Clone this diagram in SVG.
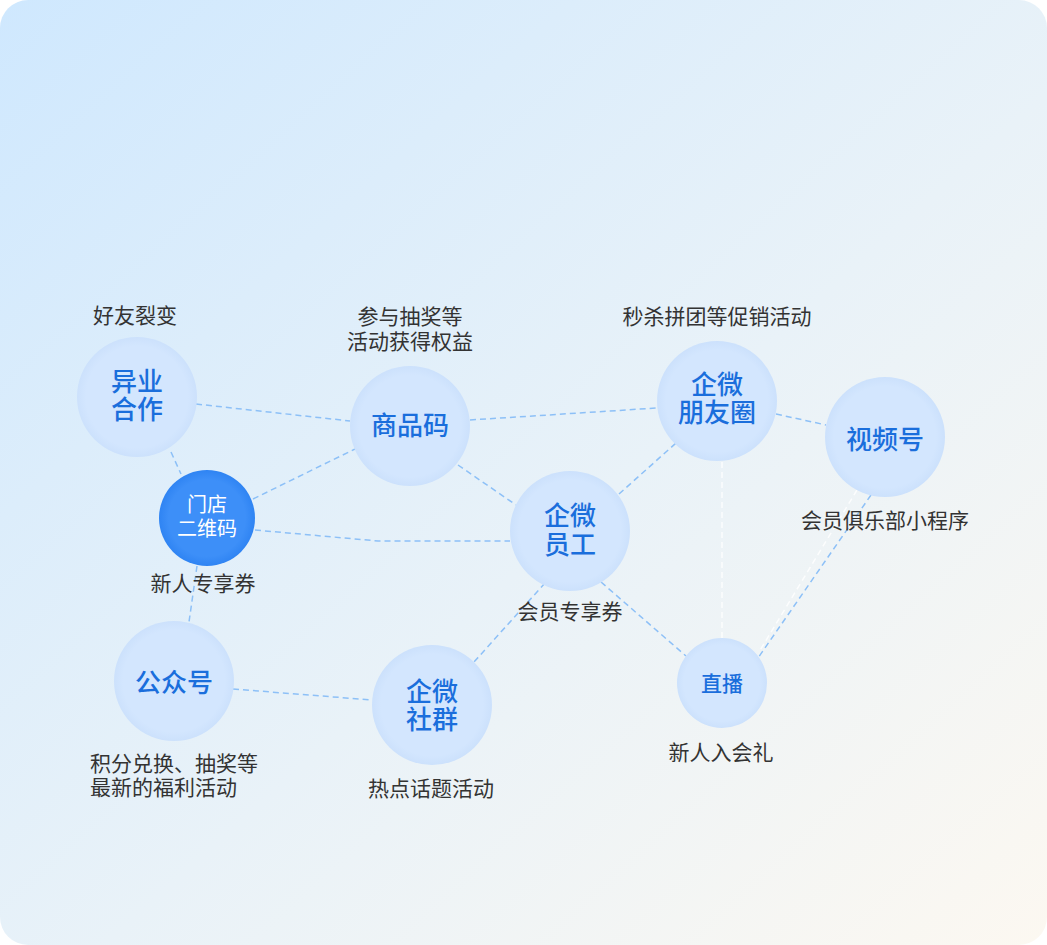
<svg xmlns="http://www.w3.org/2000/svg" width="1047" height="945" viewBox="0 0 1047 945">
<defs>
<linearGradient id="bg" x1="0" y1="0" x2="1" y2="1">
<stop offset="0" stop-color="#CFE8FE"/>
<stop offset="0.55" stop-color="#E9F2F8"/>
<stop offset="1" stop-color="#FCF8F1"/>
</linearGradient>
<radialGradient id="nodeFill" cx="0.5" cy="0.5" r="0.5">
<stop offset="0.85" stop-color="#D3E6FE"/>
<stop offset="1" stop-color="#CCE1FC"/>
</radialGradient>
<radialGradient id="mainFill" cx="0.5" cy="0.5" r="0.5">
<stop offset="0.8" stop-color="#3D8FF8"/>
<stop offset="1" stop-color="#2F84F3"/>
</radialGradient>
<style>
.node{fill:url(#nodeFill);}
.nt{font-family:"Noto Sans CJK SC","Noto Sans",sans-serif;font-size:26px;font-weight:500;fill:#1A6EDC;text-anchor:middle;}
.nts{font-family:"Noto Sans CJK SC","Noto Sans",sans-serif;font-size:21px;font-weight:500;fill:#1A6EDC;text-anchor:middle;}
.wt{font-family:"Noto Sans CJK SC","Noto Sans",sans-serif;font-size:20px;fill:#FFFFFF;text-anchor:middle;}
.lb{font-family:"Noto Sans CJK SC","Noto Sans",sans-serif;font-size:21px;fill:#333333;text-anchor:middle;}
.lbl{font-family:"Noto Sans CJK SC","Noto Sans",sans-serif;font-size:21px;fill:#333333;}
.c{fill:none;stroke:#8DC0F7;stroke-width:1.5;stroke-dasharray:6 4;}
.cw{fill:none;stroke:#FFFFFF;stroke-opacity:0.8;stroke-width:1.5;stroke-dasharray:6 4;}
</style>
</defs>
<rect x="0" y="0" width="1047" height="945" fill="#FFFFFF"/>
<rect x="0" y="0" width="1047" height="945" rx="28" ry="28" fill="url(#bg)"/>
<g id="connectors">
<line class="c" x1="196" y1="404" x2="350" y2="421"/>
<line class="c" x1="171" y1="452" x2="181" y2="474"/>
<line class="c" x1="253" y1="499" x2="355" y2="449"/>
<polyline class="c" points="255,530 378,541 510,541"/>
<line class="c" x1="197" y1="566" x2="189" y2="622"/>
<line class="c" x1="470" y1="420" x2="657" y2="408"/>
<line class="c" x1="458" y1="465" x2="516" y2="505"/>
<line class="c" x1="619" y1="494" x2="676" y2="443"/>
<line class="c" x1="776" y1="414" x2="826" y2="425"/>
<line class="cw" x1="722" y1="462" x2="722" y2="638"/>
<line class="cw" x1="857" y1="490" x2="759" y2="652"/>
<line class="c" x1="871" y1="495" x2="758" y2="658"/>
<line class="c" x1="545" y1="583" x2="474" y2="662"/>
<line class="c" x1="601" y1="582" x2="686" y2="656"/>
<line class="c" x1="233" y1="689" x2="372" y2="700"/>
</g>
<g id="node-yiye">
<circle class="node" cx="137" cy="397" r="60"/>
<text class="nt" x="137" y="391">异业</text>
<text class="nt" x="137" y="419">合作</text>
<text class="lb" x="135" y="323">好友裂变</text>
</g>
<g id="node-mendian">
<circle cx="207" cy="518" r="48" fill="url(#mainFill)"/>
<text class="wt" x="207" y="512">门店</text>
<text class="wt" x="207" y="536">二维码</text>
<text class="lb" x="203" y="591">新人专享券</text>
</g>
<g id="node-shangpin">
<circle class="node" cx="410" cy="426" r="60"/>
<text class="nt" x="410" y="435">商品码</text>
<text class="lb" x="410" y="324">参与抽奖等</text>
<text class="lb" x="410" y="349">活动获得权益</text>
</g>
<g id="node-pengyouquan">
<circle class="node" cx="717" cy="401" r="60"/>
<text class="nt" x="717" y="394">企微</text>
<text class="nt" x="717" y="422">朋友圈</text>
<text class="lb" x="717" y="324">秒杀拼团等促销活动</text>
</g>
<g id="node-shipinhao">
<circle class="node" cx="885" cy="437" r="60"/>
<text class="nt" x="885" y="449">视频号</text>
<text class="lb" x="885" y="528">会员俱乐部小程序</text>
</g>
<g id="node-yuangong">
<circle class="node" cx="570" cy="531" r="60"/>
<text class="nt" x="570" y="525">企微</text>
<text class="nt" x="570" y="554">员工</text>
<text class="lb" x="570" y="619">会员专享券</text>
</g>
<g id="node-gongzhonghao">
<circle class="node" cx="174" cy="681" r="60"/>
<text class="nt" x="174" y="692">公众号</text>
<text class="lbl" x="90" y="771">积分兑换、抽奖等</text>
<text class="lbl" x="90" y="795">最新的福利活动</text>
</g>
<g id="node-shequn">
<circle class="node" cx="432" cy="705" r="60"/>
<text class="nt" x="432" y="701">企微</text>
<text class="nt" x="432" y="729">社群</text>
<text class="lb" x="431" y="796">热点话题活动</text>
</g>
<g id="node-zhibo">
<circle class="node" cx="722" cy="683" r="45"/>
<text class="nts" x="722" y="691">直播</text>
<text class="lb" x="721" y="760">新人入会礼</text>
</g>
</svg>
